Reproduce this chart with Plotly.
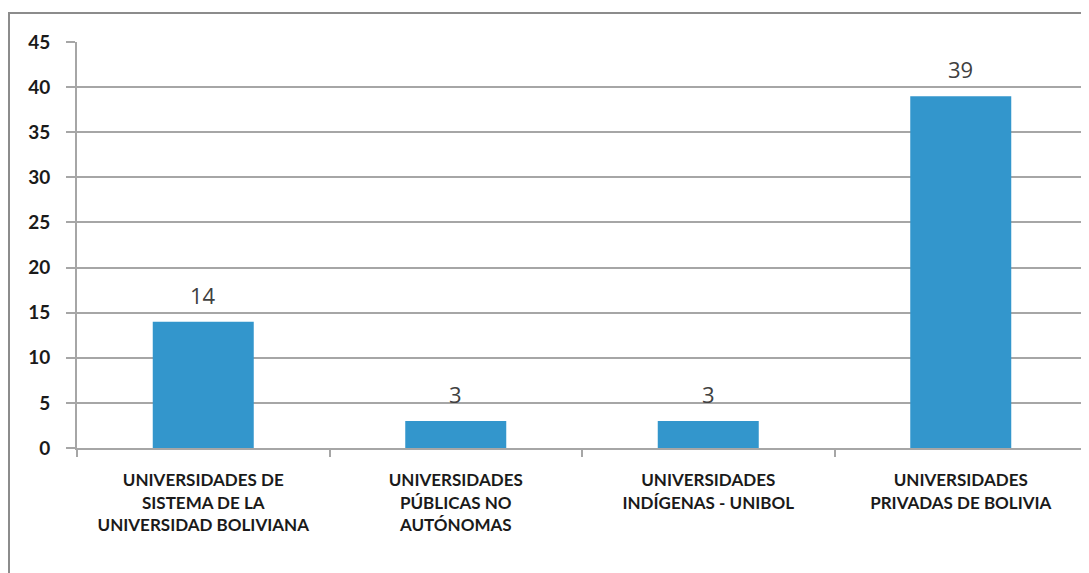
import plotly.graph_objects as go

categories = [
    "UNIVERSIDADES DE<br>SISTEMA DE LA<br>UNIVERSIDAD BOLIVIANA",
    "UNIVERSIDADES<br>PÚBLICAS NO<br>AUTÓNOMAS",
    "UNIVERSIDADES<br>INDÍGENAS - UNIBOL",
    "UNIVERSIDADES<br>PRIVADAS DE BOLIVIA",
]
values = [14, 3, 3, 39]
y_ticks = [0, 5, 10, 15, 20, 25, 30, 35, 40, 45]

# page body has an 8px margin, so figure coordinates are offset by 8px
OFF = 8
W, H = 1089 - OFF, 573 - OFF
ml, mt = 77 - OFF, 42 - OFF
mr = W - (1087 - OFF)
mb = H - (448 - OFF)

fig = go.Figure()
fig.add_trace(go.Bar(
    x=categories, y=values,
    marker=dict(color="#3396CC", line=dict(width=0)),
    width=0.4,
    hoverinfo="skip",
))

for c, v in zip(categories, values):
    fig.add_annotation(
        x=c, y=v, text=str(v), showarrow=False,
        yanchor="bottom", yshift=10,
        font=dict(family="Open Sans", size=22, color="#404040"),
    )

pw = W - ml - mr
ph = H - mt - mb
fig.add_shape(
    type="rect", xref="paper", yref="paper",
    x0=(9 - OFF - ml) / pw, x1=(W + 20 - ml) / pw,
    y0=-(H + 20 - mt - ph) / ph, y1=(mt + ph - (13 - OFF)) / ph,
    line=dict(color="#8c8c8c", width=2), layer="below",
)

fig.update_layout(
    width=W, height=H,
    margin=dict(l=ml, r=mr, t=mt, b=mb),
    plot_bgcolor="white", paper_bgcolor="white",
    showlegend=False, bargap=0.6,
    font=dict(family="Lato", color="#1a1a1a"),
)
fig.update_yaxes(
    range=[0, 45], tickvals=y_ticks,
    showgrid=True, gridcolor="#a6a6a6", gridwidth=2,
    showline=True, linecolor="#a6a6a6", linewidth=2,
    ticks="outside", ticklen=9, tickcolor="#a6a6a6", tickwidth=2,
    ticklabelstandoff=12,
    tickfont=dict(family="Lato", size=19, color="#1a1a1a", weight="bold"),
    zeroline=False, fixedrange=True,
)
fig.update_xaxes(
    showline=True, linecolor="#a6a6a6", linewidth=2,
    ticks="outside", tickson="boundaries", ticklen=7,
    tickcolor="#a6a6a6", tickwidth=2,
    ticklabelstandoff=16,
    tickfont=dict(family="Lato", size=17, color="#1a1a1a", weight="bold"),
    fixedrange=True,
)

fig.write_html("out.html")
